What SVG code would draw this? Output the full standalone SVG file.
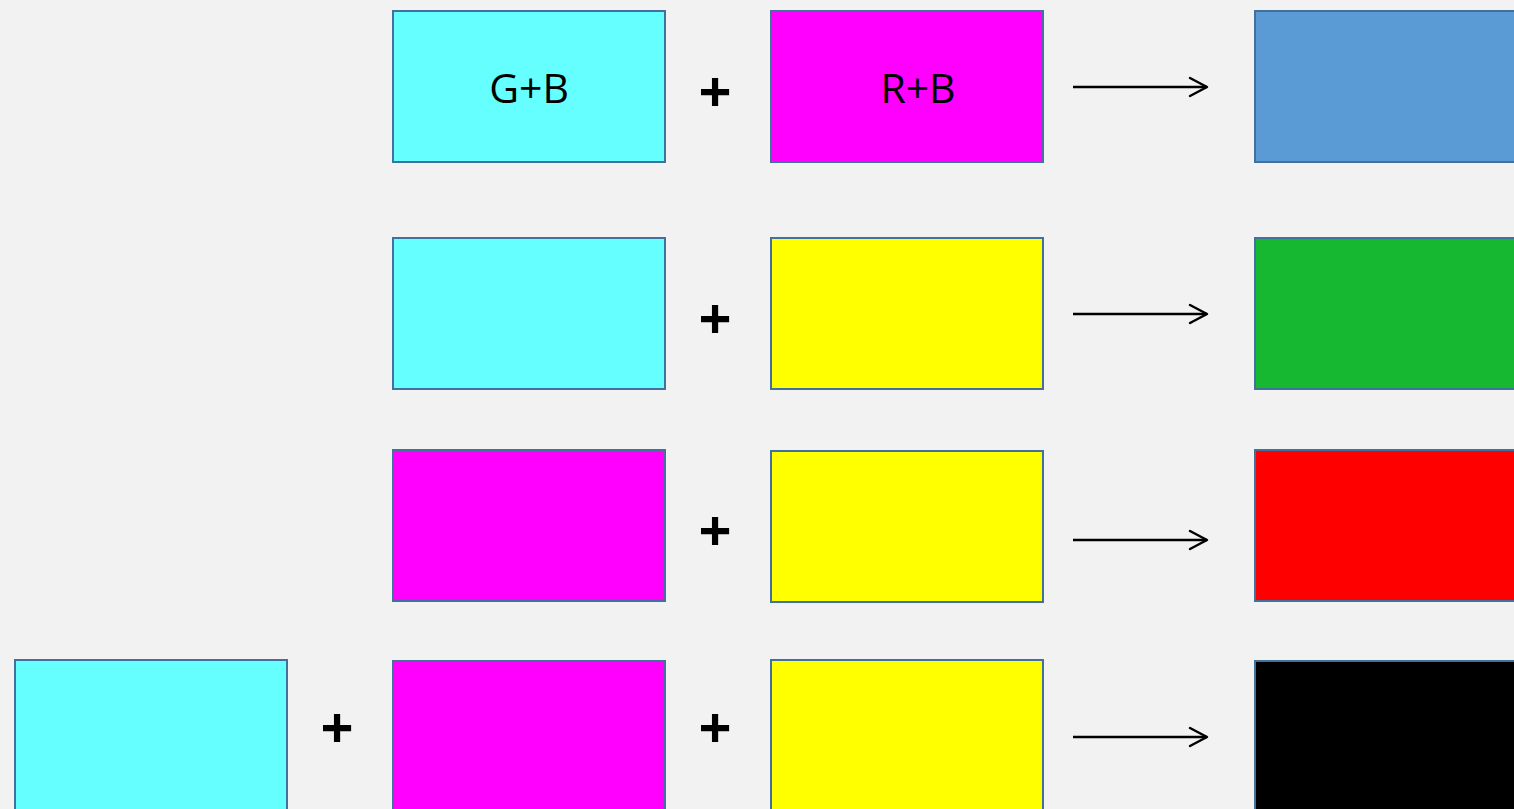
<svg xmlns="http://www.w3.org/2000/svg" width="1514" height="809" viewBox="0 0 1514 809">
<style>
.box{stroke:#41719C;stroke-width:2}
.c{fill:#66FFFF}.m{fill:#FF00FF}.y{fill:#FFFF00}
.lbl{font-family:"Open Sans","Noto Sans","Liberation Sans",sans-serif;font-size:41px;fill:#000;text-anchor:middle}
.plus{font-family:"Open Sans","Noto Sans","Liberation Sans",sans-serif;font-size:58px;fill:#000;text-anchor:middle;font-weight:700}
.arr{stroke:#000;stroke-width:2.5;fill:none}
.head{stroke:#000;stroke-width:2.5;fill:none;stroke-linecap:round;stroke-linejoin:round}
</style>
<rect width="1514" height="809" fill="#F2F2F2"/>
<g id="row1">
<g id="r1-cyan"><rect class="box c" x="393" y="11" width="272" height="151"/><text class="lbl" x="529" y="103">G+B</text></g>
<text class="plus" x="715" y="112">+</text>
<g id="r1-magenta"><rect class="box m" x="771" y="11" width="272" height="151"/><text class="lbl" x="918" y="103">R+B</text></g>
<g id="r1-result"><rect class="box" fill="#5B9BD5" x="1255" y="11" width="270" height="151"/></g>
</g>
<g id="row2">
<g id="r2-cyan"><rect class="box c" x="393" y="238" width="272" height="151"/></g>
<text class="plus" x="715" y="339">+</text>
<g id="r2-yellow"><rect class="box y" x="771" y="238" width="272" height="151"/></g>
<g id="r2-result"><rect class="box" fill="#16B832" x="1255" y="238" width="270" height="151"/></g>
</g>
<g id="row3">
<g id="r3-magenta"><rect class="box m" x="393" y="450" width="272" height="151"/></g>
<text class="plus" x="715" y="551">+</text>
<g id="r3-yellow"><rect class="box y" x="771" y="451" width="272" height="151"/></g>
<g id="r3-result"><rect class="box" fill="#FF0000" x="1255" y="450" width="270" height="151"/></g>
</g>
<g id="row4">
<g id="r4-cyan"><rect class="box c" x="15" y="660" width="272" height="160"/></g>
<text class="plus" x="337" y="748">+</text>
<g id="r4-magenta"><rect class="box m" x="393" y="661" width="272" height="160"/></g>
<text class="plus" x="715" y="748">+</text>
<g id="r4-yellow"><rect class="box y" x="771" y="660" width="272" height="160"/></g>
<g id="r4-result"><rect class="box" fill="#000000" x="1255" y="661" width="270" height="160"/></g>
</g>
<g id="connectors">
<line class="arr" x1="1073" y1="87" x2="1207" y2="87"/><polyline class="head" points="1190,78 1207,87 1190,96"/>
<line class="arr" x1="1073" y1="314" x2="1207" y2="314"/><polyline class="head" points="1190,305 1207,314 1190,323"/>
<line class="arr" x1="1073" y1="540" x2="1207" y2="540"/><polyline class="head" points="1190,531 1207,540 1190,549"/>
<line class="arr" x1="1073" y1="737" x2="1207" y2="737"/><polyline class="head" points="1190,728 1207,737 1190,746"/>
</g>
</svg>
